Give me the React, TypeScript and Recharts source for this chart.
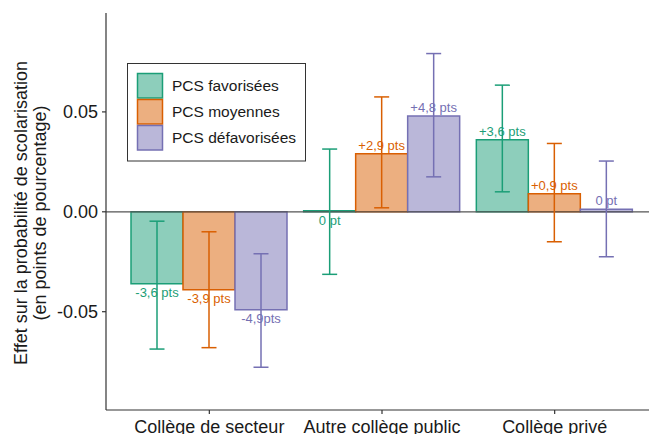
import React from "react";
import {
  BarChart,
  Bar,
  XAxis,
  YAxis,
  ErrorBar,
  LabelList,
  ReferenceLine,
  Legend,
} from "recharts";

const FONT = "'Liberation Sans', Arial, Helvetica, sans-serif";

const categories = ["Collège de secteur", "Autre collège public", "Collège privé"];

const seriesNames = ["PCS favorisées", "PCS moyennes", "PCS défavorisées"];
const seriesKeys = ["fav", "moy", "def"];
const strokeColors = ["#1B9E77", "#D95F02", "#7570B3"];
const fillColors = ["#8DCEBB", "#ECAF80", "#BAB7D9"];

// effects (bar heights)
const favValues = [-0.036, 0, 0.036];
const moyValues = [-0.039, 0.029, 0.009];
const defValues = [-0.049, 0.048, 0.0013];

// confidence intervals
const favLow = [-0.0687, -0.0313, 0.01];
const favHigh = [-0.0047, 0.0314, 0.0634];
const moyLow = [-0.068, 0.002, -0.015];
const moyHigh = [-0.01, 0.0575, 0.0342];
const defLow = [-0.0778, 0.0175, -0.0225];
const defHigh = [-0.021, 0.0792, 0.0254];

// text printed next to bars
const favLabels = ["-3,6 pts", "0 pt", "+3,6 pts"];
const moyLabels = ["-3,9 pts", "+2,9 pts", "+0,9 pts"];
const defLabels = ["-4,9pts", "+4,8 pts", "0 pt"];

const yTicks = [-0.05, 0, 0.05];

const series = [
  { values: favValues, low: favLow, high: favHigh, labels: favLabels },
  { values: moyValues, low: moyLow, high: moyHigh, labels: moyLabels },
  { values: defValues, low: defLow, high: defHigh, labels: defLabels },
];

const data = categories.map((cat, i) => {
  const row: any = { cat };
  series.forEach((s, k) => {
    const key = seriesKeys[k];
    row[key] = s.values[i];
    row[key + "Err"] = [s.values[i] - s.low[i], s.high[i] - s.values[i]];
    row[key + "Lab"] = s.labels[i];
  });
  return row;
});

const makeLabel = (values: number[], color: string) => (props: any) => {
  const { x, y, width, height, index, value } = props;
  const top = Math.min(y, y + height);
  const bottom = Math.max(y, y + height);
  const above = values[index] > 0;
  return (
    <text
      x={x + width / 2}
      y={above ? top - 4 : bottom + 13}
      textAnchor="middle"
      fill={color}
      fontSize={13}
      fontFamily={FONT}
    >
      {value}
    </text>
  );
};

const LegendBox = () => (
  <svg width={180} height={99} style={{ display: "block" }}>
    <rect x={0.5} y={0.5} width={178} height={97.5} fill="#fff" stroke="#333" strokeWidth={1} />
    {seriesNames.map((name, i) => (
      <g key={name}>
        <rect
          x={10.5}
          y={10.5 + i * 26}
          width={25}
          height={24.5}
          fill={fillColors[i]}
          stroke={strokeColors[i]}
          strokeWidth={1.5}
        />
        <text x={45} y={28 + i * 26} fontSize={15.5} fontFamily={FONT} fill="#1a1a1a">
          {name}
        </text>
      </g>
    ))}
  </svg>
);

const YTitle = () => (
  <g fontFamily={FONT} fontSize={18} fill="#1a1a1a" textAnchor="middle">
    <text x={27} y={213} transform="rotate(-90, 27, 213)">
      Effet sur la probabilité de scolarisation
    </text>
    <text x={46} y={213} transform="rotate(-90, 46, 213)">
      (en points de pourcentage)
    </text>
  </g>
);

export default function App() {
  return (
    <div style={{ position: "fixed", left: 0, top: 0, background: "#fff" }}>
      <BarChart
        width={649}
        height={434}
        data={data}
        margin={{ top: 13, right: 0, bottom: 0, left: 0 }}
        barSize={52}
        barGap={0}
      >
        <XAxis
          xAxisId="top"
          dataKey="cat"
          orientation="top"
          height={0}
          tick={false}
          tickLine={false}
          axisLine={{ stroke: "#333", strokeWidth: 1.2 }}
          padding={{ left: 17, right: 8 }}
        />
        <XAxis
          dataKey="cat"
          height={24}
          interval={0}
          padding={{ left: 17, right: 8 }}
          tickSize={4}
          tickMargin={6}
          tick={{ fontSize: 18, fill: "#1a1a1a", fontFamily: FONT }}
          axisLine={{ stroke: "#333", strokeWidth: 1.2 }}
          tickLine={{ stroke: "#333", strokeWidth: 1.2 }}
        />
        <YAxis
          width={106}
          domain={[-0.0992, 0.0995]}
          ticks={yTicks}
          tickFormatter={(v: number) => v.toFixed(2)}
          tickSize={4}
          tickMargin={4}
          tick={{ fontSize: 18, fill: "#1a1a1a", fontFamily: FONT }}
          axisLine={{ stroke: "#333", strokeWidth: 1.2 }}
          tickLine={{ stroke: "#333", strokeWidth: 1.2 }}
          label={{ content: () => <YTitle /> }}
        />
        <ReferenceLine y={0} stroke="#555" strokeWidth={1.2} />
        <Legend
          layout="vertical"
          align="center"
          verticalAlign="middle"
          wrapperStyle={{ left: 127, top: 63, width: 180, height: 99 }}
          content={() => <LegendBox />}
        />
        {seriesKeys.map((key, k) => (
          <Bar
            key={key}
            dataKey={key}
            name={seriesNames[k]}
            fill={fillColors[k]}
            stroke={strokeColors[k]}
            strokeWidth={1.5}
            minPointSize={1}
            isAnimationActive={false}
          >
            <ErrorBar
              dataKey={key + "Err"}
              width={7.5}
              stroke={strokeColors[k]}
              strokeWidth={1.5}
              direction="y"
            />
            <LabelList
              dataKey={key + "Lab"}
              content={makeLabel(series[k].values, strokeColors[k])}
            />
          </Bar>
        ))}
      </BarChart>
    </div>
  );
}
